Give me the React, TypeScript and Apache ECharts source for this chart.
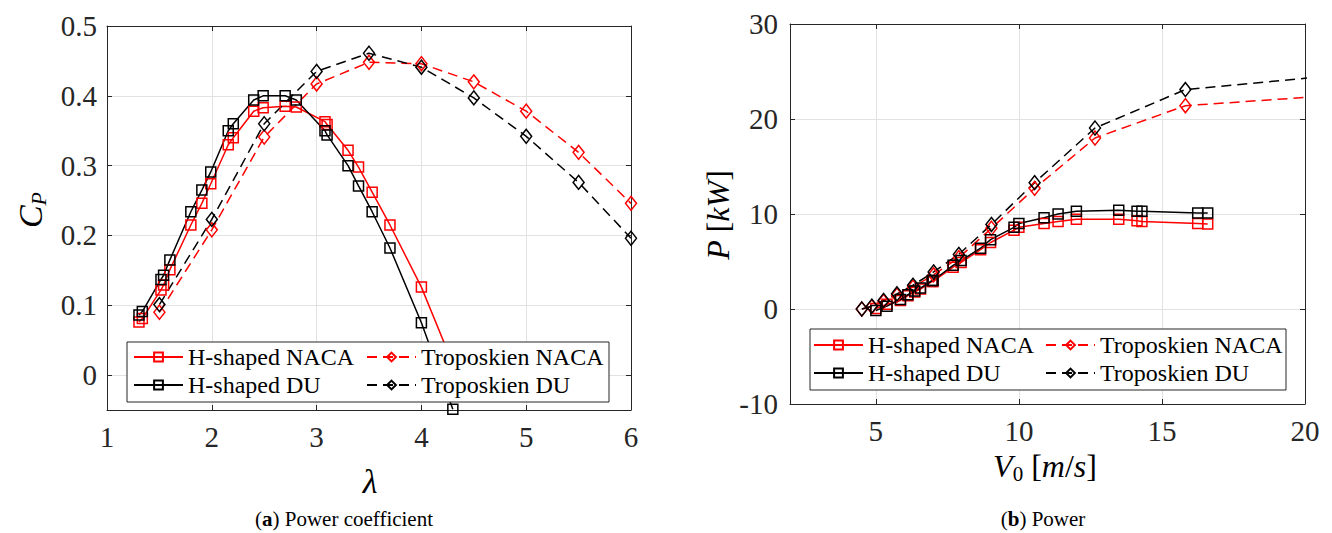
import React, { useEffect, useRef } from 'react';
import * as echarts from 'echarts';

// ---------- (a) Power coefficient ----------
const lambdaH = [1.305, 1.337, 1.515, 1.54, 1.6, 1.8, 1.905, 1.99, 2.157, 2.205, 2.4, 2.49, 2.7, 2.806, 3.08, 3.1, 3.3, 3.4, 3.53, 3.7, 4.0, 4.3];
const cpHNaca = [0.076, 0.081, 0.122, 0.129, 0.151, 0.215, 0.246, 0.274, 0.33, 0.34, 0.378, 0.383, 0.385, 0.384, 0.363, 0.359, 0.322, 0.298, 0.262, 0.215, 0.126, 0.016];
const cpHDu = [0.086, 0.091, 0.137, 0.143, 0.165, 0.234, 0.265, 0.291, 0.35, 0.36, 0.394, 0.4, 0.4, 0.394, 0.35, 0.344, 0.3, 0.271, 0.234, 0.182, 0.075, -0.049];
const lambdaT = [1.5, 2.0, 2.5, 3.0, 3.5, 4.0, 4.5, 5.0, 5.5, 6.0];
const cpTNaca = [0.09, 0.208, 0.341, 0.417, 0.448, 0.446, 0.42, 0.378, 0.319, 0.246];
const cpTDu = [0.101, 0.223, 0.36, 0.435, 0.461, 0.441, 0.397, 0.342, 0.276, 0.196];

// ---------- (b) Power ----------
const v0H = [5.0, 5.39, 5.86, 6.12, 6.36, 6.56, 6.97, 7.0, 7.7, 7.98, 8.66, 9.01, 9.83, 10.0, 10.88, 11.37, 12.01, 13.49, 14.13, 14.3, 16.25, 16.6];
const pHNaca = [0.05, 0.5, 0.9, 1.4, 1.8, 2.1, 2.9, 2.9, 4.4, 4.9, 6.25, 7.0, 8.3, 8.6, 9.0, 9.2, 9.45, 9.45, 9.3, 9.2, 9.0, 8.95];
const pHDu = [-0.15, 0.3, 1.0, 1.5, 1.9, 2.2, 3.0, 3.0, 4.6, 5.1, 6.4, 7.3, 8.6, 9.0, 9.6, 10.0, 10.3, 10.4, 10.3, 10.3, 10.1, 10.1];
const v0T = [4.51, 4.86, 5.27, 5.74, 6.3, 7.02, 7.9, 9.04, 10.55, 12.66, 15.82, 21.1];
const pTNaca = [0.0, 0.25, 0.8, 1.45, 2.3, 3.6, 5.4, 8.5, 12.7, 18.0, 21.4, 22.5];
const pTDu = [0.0, 0.3, 0.9, 1.6, 2.5, 3.9, 5.75, 8.9, 13.3, 19.05, 23.1, 24.6];

const lambdaTicks = [1, 2, 3, 4, 5, 6];
const cpTicks = [0, 0.1, 0.2, 0.3, 0.4, 0.5];
const v0Ticks = [5, 10, 15, 20];
const pTicks = [-10, 0, 10, 20, 30];

const names = ['H-shaped NACA', 'Troposkien NACA', 'H-shaped DU', 'Troposkien DU'];

const FONT = 'Liberation Serif';
const AX = '#262626';
const GRIDC = '#e2e2e2';
const RED = '#ff0000';
const BLACK = '#000000';

const zip = (xs: number[], ys: number[]) => xs.map((x, i) => [x, ys[i]]);

function makeSeries(name: string, data: number[][], color: string, dashed: boolean, square: boolean, xi: number, yi: number) {
  return {
    type: 'line',
    name,
    xAxisIndex: xi,
    yAxisIndex: yi,
    data,
    clip: true,
    symbol: square ? 'rect' : 'diamond',
    symbolSize: square ? 10 : [11, 14],
    showAllSymbol: true,
    lineStyle: { color, width: 1.5, type: dashed ? [10, 6] : 'solid' },
    itemStyle: { color: 'rgba(255,255,255,0)', borderColor: color, borderWidth: 1.5 },
    emphasis: { disabled: true },
    z: 2,
  };
}

function xAxisCfg(grid: number, pos: string, min: number, max: number, ticks: number[], main: boolean) {
  return {
    type: 'value',
    gridIndex: grid,
    position: pos,
    min,
    max,
    axisLine: { show: true, onZero: false, lineStyle: { color: AX, width: 1 } },
    axisTick: { show: true, inside: true, length: 5, customValues: ticks, lineStyle: { color: AX } },
    axisLabel: main
      ? { show: true, customValues: ticks, margin: 12, fontFamily: FONT, fontSize: 29, color: AX }
      : { show: false },
    splitLine: { show: main, lineStyle: { color: GRIDC, width: 1 } },
  };
}

function yAxisCfg(grid: number, pos: string, min: number, max: number, ticks: number[], main: boolean, margin: number) {
  return {
    type: 'value',
    gridIndex: grid,
    position: pos,
    min,
    max,
    axisLine: { show: true, onZero: false, lineStyle: { color: AX, width: 1 } },
    axisTick: { show: true, inside: true, length: 5, customValues: ticks, lineStyle: { color: AX } },
    axisLabel: main
      ? { show: true, customValues: ticks, margin, fontFamily: FONT, fontSize: 29, color: AX }
      : { show: false },
    splitLine: { show: main, lineStyle: { color: GRIDC, width: 1 } },
  };
}

function legendCfg(data: string[], left: number, top: number) {
  return {
    data,
    orient: 'vertical',
    left,
    top,
    padding: 0,
    itemWidth: 49,
    itemHeight: 11,
    itemGap: 4,
    selectedMode: false,
    textStyle: { fontFamily: FONT, fontSize: 24, color: '#000', lineHeight: 24 },
    z: 4,
  };
}

const mathRich = (size: number) => ({
  i: { fontFamily: FONT, fontStyle: 'italic', fontSize: size, lineHeight: size + 4, fill: '#000' },
  n: { fontFamily: FONT, fontSize: size, lineHeight: size + 4, fill: '#000' },
  s: { fontFamily: FONT, fontStyle: 'italic', fontSize: Math.round(size * 0.66), lineHeight: 14, verticalAlign: 'bottom', fill: '#000' },
  su: { fontFamily: FONT, fontSize: Math.round(size * 0.66), lineHeight: 14, verticalAlign: 'bottom', fill: '#000' },
});

export default function App() {
  const ref = useRef<HTMLDivElement>(null);
  useEffect(() => {
    if (!ref.current) return;
    const chart = echarts.init(ref.current, null, { renderer: 'svg' });
    const option = {
      animation: false,
      backgroundColor: '#ffffff',
      textStyle: { fontFamily: FONT },
      grid: [
        { left: 107, top: 26, width: 524, height: 384 },
        { left: 790, top: 24, width: 515, height: 380 },
      ],
      xAxis: [
        xAxisCfg(0, 'bottom', 1, 6, lambdaTicks, true),
        xAxisCfg(0, 'top', 1, 6, lambdaTicks, false),
        xAxisCfg(1, 'bottom', 2, 20, v0Ticks, true),
        xAxisCfg(1, 'top', 2, 20, v0Ticks, false),
      ],
      yAxis: [
        yAxisCfg(0, 'left', -0.05, 0.5, cpTicks, true, 10),
        yAxisCfg(0, 'right', -0.05, 0.5, cpTicks, false, 10),
        yAxisCfg(1, 'left', -10, 30, pTicks, true, 12),
        yAxisCfg(1, 'right', -10, 30, pTicks, false, 12),
      ],
      legend: [
        legendCfg([names[0], names[2]], 133, 345),
        legendCfg([names[1], names[3]], 366, 345),
        legendCfg([names[0], names[2]], 813, 333),
        legendCfg([names[1], names[3]], 1045, 333),
      ],
      series: [
        makeSeries(names[0], zip(lambdaH, cpHNaca), RED, false, true, 0, 0),
        makeSeries(names[1], zip(lambdaT, cpTNaca), RED, true, false, 0, 0),
        makeSeries(names[2], zip(lambdaH, cpHDu), BLACK, false, true, 0, 0),
        makeSeries(names[3], zip(lambdaT, cpTDu), BLACK, true, false, 0, 0),
        makeSeries(names[0], zip(v0H, pHNaca), RED, false, true, 2, 2),
        makeSeries(names[1], zip(v0T, pTNaca), RED, true, false, 2, 2),
        makeSeries(names[2], zip(v0H, pHDu), BLACK, false, true, 2, 2),
        makeSeries(names[3], zip(v0T, pTDu), BLACK, true, false, 2, 2),
      ],
      graphic: [
        { type: 'rect', z: 3, shape: { x: 127, y: 342, width: 482, height: 60 }, style: { fill: '#fff', stroke: AX, lineWidth: 1 } },
        { type: 'rect', z: 3, shape: { x: 810, y: 329, width: 476, height: 61 }, style: { fill: '#fff', stroke: AX, lineWidth: 1 } },
        {
          type: 'text', x: 30, y: 210, rotation: Math.PI / 2,
          style: { text: '{i|C}{s|P}', rich: mathRich(34), align: 'center', verticalAlign: 'middle' },
        },
        {
          type: 'text', x: 370, y: 481,
          style: { text: '{i|λ}', rich: mathRich(34), align: 'center', verticalAlign: 'middle' },
        },
        {
          type: 'text', x: 718, y: 215, rotation: Math.PI / 2,
          style: { text: '{i|P}{n| [}{i|kW}{n|]}', rich: mathRich(32), align: 'center', verticalAlign: 'middle' },
        },
        {
          type: 'text', x: 1045, y: 466,
          style: { text: '{i|V}{su|0}{n| [}{i|m}{n|/}{i|s}{n|]}', rich: mathRich(32), align: 'center', verticalAlign: 'middle' },
        },
        {
          type: 'text', x: 344, y: 519,
          style: {
            text: '{n|(}{b|a}{n|) Power coefficient}',
            rich: {
              n: { fontFamily: FONT, fontSize: 21, fill: '#000' },
              b: { fontFamily: FONT, fontSize: 21, fontWeight: 'bold', fill: '#000' },
            },
            align: 'center', verticalAlign: 'middle',
          },
        },
        {
          type: 'text', x: 1043, y: 519,
          style: {
            text: '{n|(}{b|b}{n|) Power}',
            rich: {
              n: { fontFamily: FONT, fontSize: 21, fill: '#000' },
              b: { fontFamily: FONT, fontSize: 21, fontWeight: 'bold', fill: '#000' },
            },
            align: 'center', verticalAlign: 'middle',
          },
        },
      ],
    };
    chart.setOption(option as any);
    return () => chart.dispose();
  }, []);
  return (
    <div
      ref={ref}
      style={{ position: 'fixed', left: 0, top: 0, width: 1332, height: 533, background: '#fff' }}
    />
  );
}
